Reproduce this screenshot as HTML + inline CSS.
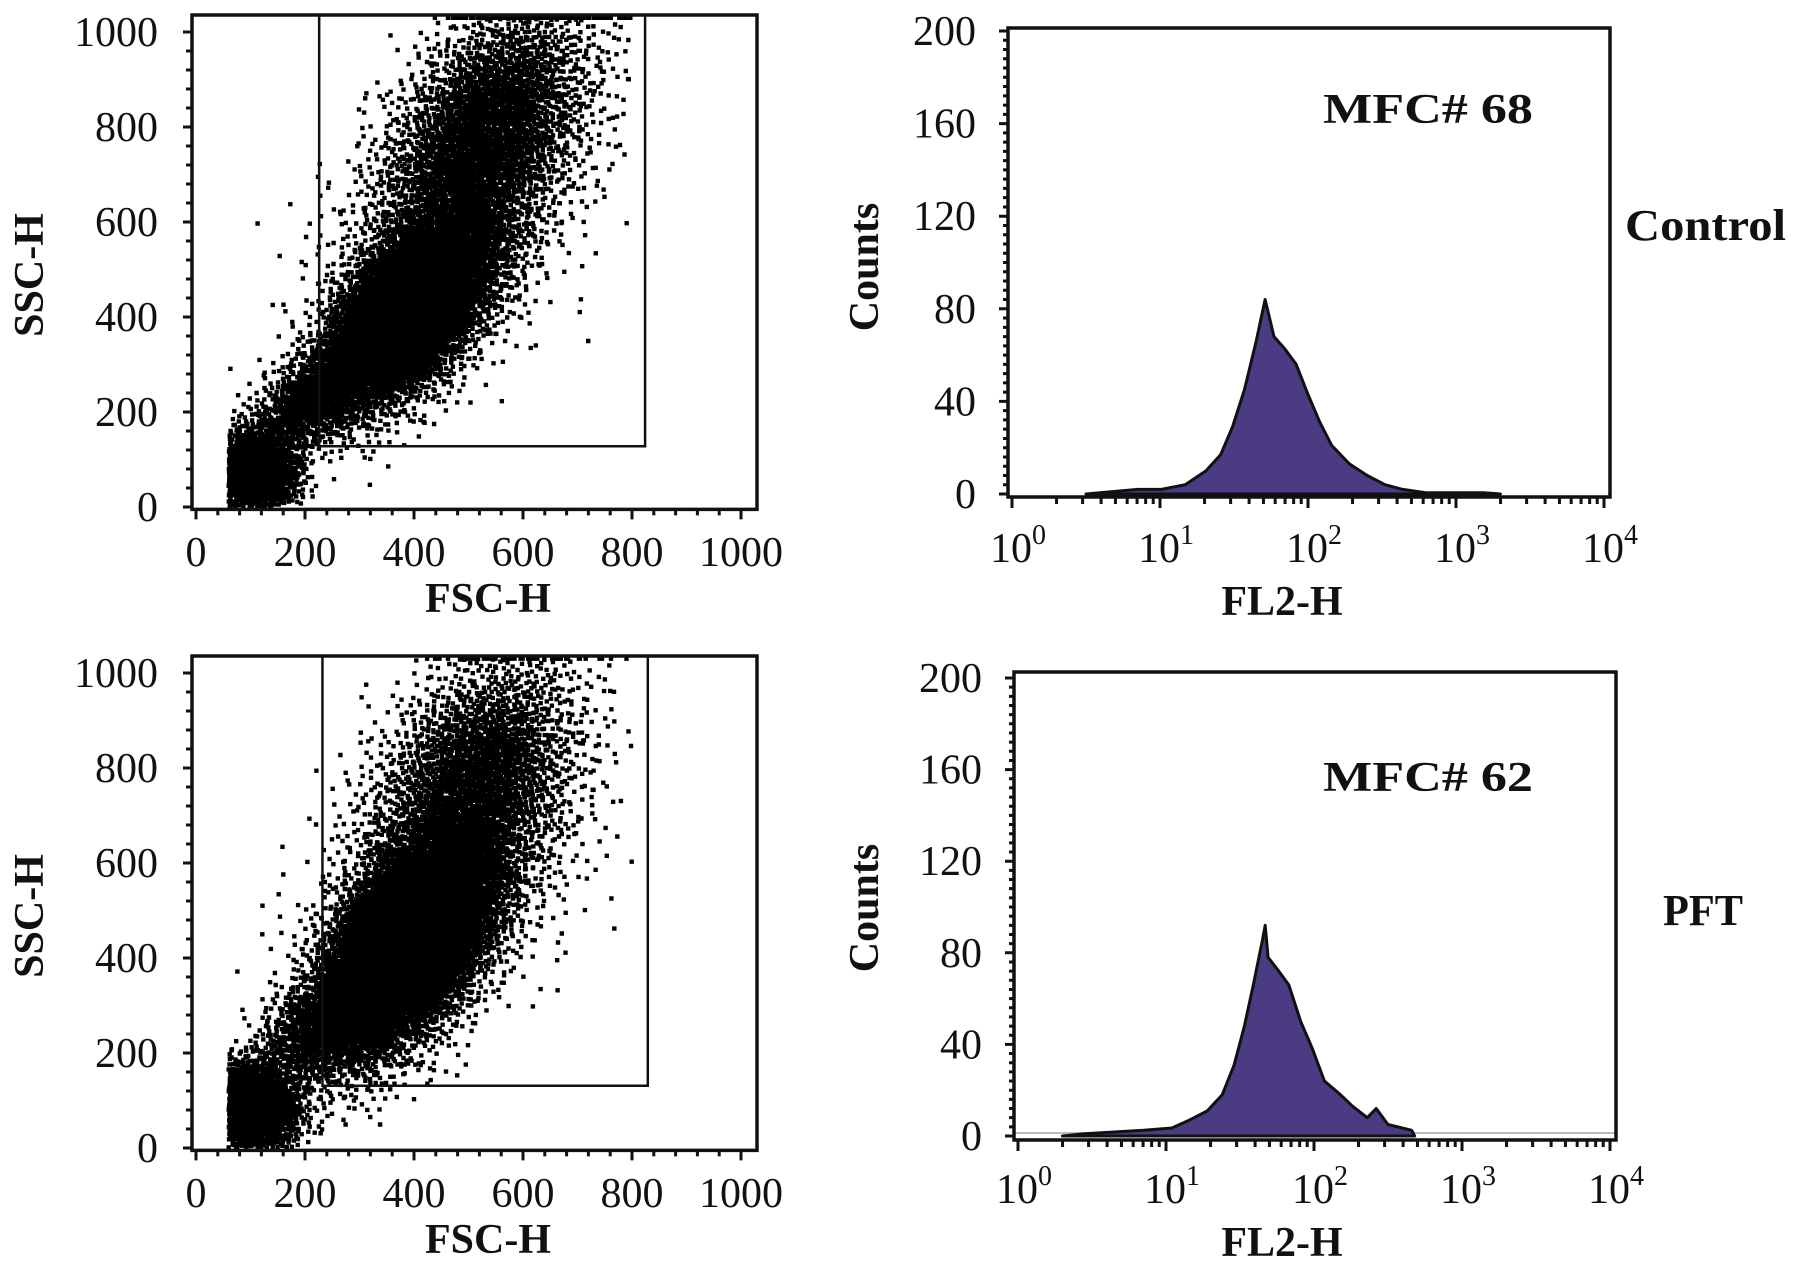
<!DOCTYPE html>
<html><head><meta charset="utf-8">
<style>
html,body{margin:0;padding:0;background:#fff;}
svg{display:block;}
text{font-family:"Liberation Serif",serif;fill:#111;}
.b{font-weight:bold;}
</style></head>
<body>
<svg id="fig" width="1795" height="1267" viewBox="0 0 1795 1267" xmlns="http://www.w3.org/2000/svg">
<rect width="1795" height="1267" fill="#fff"/>
</svg>
<script>
// ---------- data ----------
const scatterXTicks = [0,200,400,600,800,1000];
const scatterYTicks = [0,200,400,600,800,1000];
const histYTicks = [0,40,80,120,160,200];
const histXDecades = [0,1,2,3,4];

// gate rectangles [fscMin, fscMax, sscMin]
const gateControl = [226, 824, 128];
const gatePFT = [232, 829, 131];

// scatter populations: fsc centre, ssc centre, spread major, spread minor, angle (deg), events
const popControlFsc = [400, 530, 105, 230, 460, 385];
const popControlSsc = [420, 780, 75, 240, 560, 430];
const popControlMaj = [120, 150, 40, 90, 200, 75];
const popControlMin = [58, 80, 40, 40, 105, 42];
const popControlAng = [58, 65, 45, 45, 58, 58];
const popControlN = [5200, 3000, 1800, 1200, 1000, 2500];

const popPFTFsc = [395, 510, 95, 235, 460, 390];
const popPFTSsc = [440, 770, 85, 260, 560, 440];
const popPFTMaj = [140, 140, 45, 95, 200, 100];
const popPFTMin = [66, 85, 48, 45, 110, 48];
const popPFTAng = [63, 67, 50, 50, 60, 63];
const popPFTN = [6500, 2400, 2000, 1100, 900, 5000];

// histograms: log10(FL2-H) and counts
const ctrlLog = [0.5,0.67,0.85,1.01,1.17,1.31,1.41,1.49,1.57,1.65,1.71,1.77,1.84,1.92,2.00,2.08,2.16,2.28,2.40,2.52,2.64,2.80,3.0,3.19,3.3];
const ctrlCount = [0,1,2,2,4,10,17,29,45,66,84,68,63,56,43,31,21,13,8,4,2,0.5,0.5,0.5,0];
const pftLog = [0.3,0.45,0.85,1.04,1.16,1.28,1.38,1.46,1.53,1.59,1.65,1.67,1.69,1.75,1.83,1.91,1.99,2.07,2.18,2.26,2.36,2.42,2.50,2.66,2.68];
const pftCount = [0,1,2.5,3.5,7,11,18,31,48,66,85,92,78,73,66,50,38,24,18,13,8,12,5,2.5,0];

// ---------- helpers ----------
const NS = "http://www.w3.org/2000/svg";
const svg = document.getElementById('fig');
function el(tag, attrs, parent){
  const e = document.createElementNS(NS, tag);
  for (const k in attrs) e.setAttribute(k, attrs[k]);
  (parent||svg).appendChild(e);
  return e;
}
function txt(s, x, y, size, anchor, bold, parent){
  const t = el('text', {x:x, y:y, 'font-size':size, 'text-anchor':anchor||'middle'}, parent);
  if (bold) t.setAttribute('class','b');
  t.textContent = s;
  return t;
}
function halton(i, b){ let f=1, r=0; while(i>0){ f/=b; r+=f*(i%b); i=Math.floor(i/b);} return r; }

// ---------- scatter panel ----------
function scatterPanel(oy, gate, pf, ps, pmaj, pmin, pang, pn, name){
  const g = el('g', {});
  
  
  const x0=196, x1=741, y0=507+oy, yTop=32+oy;
  const sx = v => x0 + (x1-x0)*v/1000;
  const sy = v => y0 - (y0-yTop)*v/1000;
  const fL=192, fR=757, fT=15+oy, fB=sy(-5);
  const dots = el('g', {fill:'#000'}, g);
  
  
  let idx = 1;
  for (let p=0;p<pf.length;p++){
    const a = pang[p]*Math.PI/180;
    let d = '';
    for (let k=0;k<pn[p];k++,idx++){
      const u1 = Math.max(1e-4, halton(idx,2)), u2 = halton(idx,3);
      const r = Math.sqrt(-2*Math.log(u1));
      if (r > 3.2) continue;
      const z1 = r*Math.cos(2*Math.PI*u2), z2 = r*Math.sin(2*Math.PI*u2);
      const mx = z1*pmaj[p], mn = z2*pmin[p];
      let fx = pf[p] + mx*Math.cos(a) - mn*Math.sin(a);
      let fy = ps[p] + mx*Math.sin(a) + mn*Math.cos(a);
      if (fx < 60 || fx > 800 || fy < 0) continue;
      if (fy > 1030) fy = 1030;
      const X = sx(fx), Y = sy(fy);
      d += `M${(X-2.2).toFixed(1)},${(Y-2.2).toFixed(1)}h4.4v4.4h-4.4z`;
    }
    el('path', {d:d}, dots);
  }
  const fr = el('rect', {x:fL, y:fT, width:fR-fL, height:fB-fT, fill:'none', stroke:'#111', 'stroke-width':3.5}, g);
  
  
  const gp = el('path', {d:`M${sx(gate[0])},${fT} V${sy(gate[2])} H${sx(gate[1])} V${fT}`, fill:'none', stroke:'#111', 'stroke-width':2.5}, g);
  
  
  let tk = '';
  for (let v=0; v<=1000; v+=40){ const Y=sy(v); tk += `M${fL},${Y}h${v%200===0?-9:-6}`; }
  for (let v=0; v<=1000; v+=40){ const X=sx(v); tk += `M${X},${fB}v${v%200===0?10:6}`; }
  el('path', {d:tk, stroke:'#111', 'stroke-width':3, fill:'none'}, g);
  scatterYTicks.forEach(v=>{ const t=txt(String(v), 158, sy(v)+14, 42, 'end', false, g);
      });
  scatterXTicks.forEach(v=>{ const t=txt(String(v), sx(v), 566+oy, 42, 'middle', false, g);
      });
  const xt = txt('FSC-H', 488, 612+oy, 42, 'middle', true, g);
   
  const yt = txt('SSC-H', 0, 0, 42, 'middle', true, g);
  yt.setAttribute('transform', `translate(43,${275+oy}) rotate(-90)`);
   
}

// ---------- histogram panel ----------
function histPanel(oy, xs0, xs4, fT, fB, yZero, y200, lx, cy, label, lblX, lblY, sideLabel, sideX, sideY, sideW, name, grey){
  const g = el('g', {});
  
  
  const sx = l => xs0 + (xs4-xs0)*l/4;
  const sy = c => yZero - (yZero-y200)*c/200;
  const fL = xs0-4, fR = xs4+6;
  if (grey){
    const gl = el('line', {x1:fL, x2:fR, y1:yZero-3, y2:yZero-3, stroke:'#bbb', 'stroke-width':2}, g);
     
  }
  let d = `M${sx(lx[0])},${sy(0)}`;
  for (let i=0;i<lx.length;i++) d += `L${sx(lx[i]).toFixed(1)},${sy(cy[i]).toFixed(1)}`;
  d += `L${sx(lx[lx.length-1])},${sy(0)}Z`;
  const h = el('path', {d:d, fill:'#4a3b82', stroke:'#111', 'stroke-width':3, 'stroke-linejoin':'round'}, g);
   
  const fr = el('rect', {x:fL, y:fT, width:fR-fL, height:fB-fT, fill:'none', stroke:'#111', 'stroke-width':3.5}, g);
   
  let tk='';
  for (let c=0;c<=200;c+=4){ tk += `M${fL},${sy(c)}h${c%40===0?-9:-5}`; }
  for (let dcd=0; dcd<4; dcd++){
    for (let m=1;m<=9;m++){ const X = sx(dcd+Math.log10(m)); tk += `M${X},${fB}v${m===1?11:7}`; }
  }
  tk += `M${sx(4)},${fB}v11`;
  el('path', {d:tk, stroke:'#111', 'stroke-width':3, fill:'none'}, g);
  histYTicks.forEach(v=>{ const t=txt(String(v), xs0-36, sy(v)+14, 42, 'end', false, g);
      });
  histXDecades.forEach(e=>{
    const t = el('text', {x:sx(e)+6, y:562+oy, 'font-size':42, 'text-anchor':'middle'}, g);
     
    t.appendChild(document.createTextNode('10'));
    const s = el('tspan', {dy:-18, 'font-size':28}, t); s.textContent = String(e);
  });
  const xt = txt('FL2-H', 1282, 615+oy, 42, 'middle', true, g);
   
  const yt = txt('Counts', 0, 0, 42, 'middle', true, g);
  yt.setAttribute('transform', `translate(878,${267+oy}) rotate(-90)`);
   
  const m = txt(label, lblX, lblY, 42, 'start', true, g);
  m.setAttribute('textLength', 210); m.setAttribute('lengthAdjust','spacingAndGlyphs');
   
  const s = txt(sideLabel, sideX, sideY, 44, 'start', true, g);
  s.setAttribute('textLength', sideW); s.setAttribute('lengthAdjust','spacingAndGlyphs');
   
}

scatterPanel(0, gateControl, popControlFsc, popControlSsc, popControlMaj, popControlMin, popControlAng, popControlN, 'control-scatter-plot');
scatterPanel(641, gatePFT, popPFTFsc, popPFTSsc, popPFTMaj, popPFTMin, popPFTAng, popPFTN, 'pft-scatter-plot');
histPanel(0, 1012, 1604, 28, 497, 494, 31, ctrlLog, ctrlCount, 'MFC# 68', 1323, 123, 'Control', 1625, 240, 161, 'control-histogram', false);
histPanel(641, 1018, 1610, 672, 1140, 1136, 678, pftLog, pftCount, 'MFC# 62', 1323, 791, 'PFT', 1663, 925, 80, 'pft-histogram', true);
</script>
</body></html>
